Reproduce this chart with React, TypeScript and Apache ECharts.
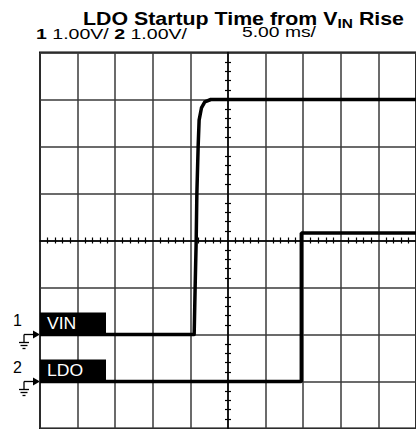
import React, { useEffect, useRef } from "react";
import * as echarts from "echarts";

// Channel 1 (VIN) trace: time in ms, volts (1 V/div, ground marker at its zero)
const vinTime = [-25, -4.5, -4.37, -4.23, -4.14, -3.97, -3.84, -3.53, -3.08, -2.29, 25];
const vinVolt = [0, 0, 1.0, 2.0, 3.0, 4.0, 4.56, 4.82, 4.95, 5.0, 5.0];
// Channel 2 (LDO) trace
const ldoTime = [-25, 9.75, 9.75, 25];
const ldoVolt = [0, 0, 3.16, 3.16];

const channelNames = ["VIN", "LDO"];
const channelNumbers = ["1", "2"];
const voltScales = ["1.00V/", "1.00V/"];
const timeScale = "5.00 ms/";

const FONT = "'Liberation Sans', Arial, Helvetica, sans-serif";

export default function App() {
  const ref = useRef<HTMLDivElement>(null);

  useEffect(() => {
    const chart = echarts.init(ref.current!, null, { renderer: "svg" });
    const ctx = document.createElement("canvas").getContext("2d")!;
    const measure = (t: string, font: string) => {
      ctx.font = font;
      return ctx.measureText(t).width;
    };
    const mkFont = (size: number, bold: boolean) => `${bold ? "bold " : ""}${size}px ${FONT}`;

    type Piece = { text: string; size: number; bold: boolean; dy?: number };
    const fitPieces = (pieces: Piece[], left: number, right: number, baseline: number) => {
      const widths = pieces.map((p) => measure(p.text, mkFont(p.size, p.bold)));
      const total = widths.reduce((a, b) => a + b, 0);
      const s = (right - left) / total;
      let cx = left;
      return pieces.map((p, i) => {
        const el = {
          type: "text",
          x: cx,
          y: baseline + (p.dy || 0) - 0.35 * p.size,
          scaleX: s,
          style: {
            text: p.text,
            font: mkFont(p.size, p.bold),
            fill: "#000",
            align: "left",
            verticalAlign: "middle",
          },
        };
        cx += widths[i] * s;
        return el;
      });
    };

    const gridLeft = 40;
    const gridTop = 52.5;
    const gridW = 378;
    const gridH = 376;
    const div = gridH / 8;

    const graphics: any[] = [];
    graphics.push(
      ...fitPieces(
        [
          { text: "LDO Startup Time from V", size: 18, bold: true },
          { text: "IN", size: 13, bold: true, dy: 3 },
          { text: " Rise", size: 18, bold: true },
        ],
        83,
        404,
        24.5
      )
    );
    graphics.push(
      ...fitPieces(
        [
          { text: channelNumbers[0], size: 14, bold: true },
          { text: " " + voltScales[0] + " ", size: 14, bold: false },
          { text: channelNumbers[1], size: 14, bold: true },
          { text: " " + voltScales[1], size: 14, bold: false },
        ],
        36,
        187,
        39
      )
    );
    graphics.push(...fitPieces([{ text: timeScale, size: 14, bold: false }], 242, 316, 37));

    // channel markers (ground levels: ch1 at division 2, ch2 at division 1 from bottom)
    const grounds = [gridTop + gridH - 2 * div, gridTop + gridH - 1 * div];
    grounds.forEach((g, i) => {
      graphics.push({
        type: "rect",
        shape: { x: gridLeft, y: g - 22, width: 66, height: 22 },
        style: { fill: "#000" },
        z: 10,
      });
      graphics.push({
        type: "text",
        x: 47,
        y: g - 11,
        scaleX: 1.1,
        style: { text: channelNames[i], font: mkFont(16, false), fill: "#fff", verticalAlign: "middle" },
        z: 11,
      });
      graphics.push({
        type: "text",
        x: 13,
        y: g - 14,
        style: { text: channelNumbers[i], font: mkFont(16, false), fill: "#000", verticalAlign: "middle" },
      });
      const ls = { stroke: "#000", lineWidth: 1.3 };
      graphics.push({ type: "line", shape: { x1: 24, y1: g, x2: 34, y2: g }, style: ls });
      graphics.push({ type: "line", shape: { x1: 24, y1: g, x2: 24, y2: g + 8 }, style: ls });
      graphics.push({ type: "line", shape: { x1: 19, y1: g + 8, x2: 29, y2: g + 8 }, style: ls });
      graphics.push({ type: "line", shape: { x1: 20.5, y1: g + 11, x2: 27.5, y2: g + 11 }, style: ls });
      graphics.push({ type: "line", shape: { x1: 22.5, y1: g + 14, x2: 25.5, y2: g + 14 }, style: ls });
      graphics.push({
        type: "polygon",
        shape: { points: [[33, g - 4], [40, g], [33, g + 4]] },
        style: { fill: "#000" },
      });
    });

    const minor = { show: true, splitNumber: 5, length: 3, lineStyle: { color: "#000", width: 1.2 } };
    const hidden = {
      axisLabel: { show: false },
      axisTick: { show: false },
      axisLine: { show: false },
      splitLine: { show: false },
    };

    chart.setOption({
      animation: false,
      grid: {
        show: true,
        left: gridLeft,
        top: gridTop,
        width: gridW,
        height: gridH,
        borderColor: "#000",
        borderWidth: 2,
        backgroundColor: "transparent",
      },
      xAxis: [
        {
          type: "value",
          min: -25,
          max: 25,
          interval: 5,
          position: "bottom",
          axisLabel: { show: false },
          axisTick: { show: false, inside: false },
          axisLine: { show: true, onZero: true, onZeroAxisIndex: 2, lineStyle: { color: "#000", width: 1.5 } },
          minorTick: minor,
          splitLine: { show: true, lineStyle: { color: "#3a3a3a", width: 1.5 } },
        },
        {
          type: "value",
          min: -25,
          max: 25,
          interval: 5,
          position: "top",
          axisLabel: { show: false },
          axisTick: { show: false, inside: false },
          axisLine: { show: false, onZero: true, onZeroAxisIndex: 2 },
          minorTick: minor,
          splitLine: { show: false },
        },
      ],
      yAxis: [
        {
          type: "value",
          min: -2,
          max: 6,
          interval: 1,
          ...hidden,
          splitLine: { show: true, lineStyle: { color: "#3a3a3a", width: 1.5 } },
        },
        { type: "value", min: -1, max: 7, interval: 1, ...hidden },
        {
          type: "value",
          min: -4,
          max: 4,
          interval: 1,
          position: "left",
          axisLabel: { show: false },
          axisTick: { show: false, inside: false },
          axisLine: { show: true, onZero: true, onZeroAxisIndex: 0, lineStyle: { color: "#000", width: 1.5 } },
          minorTick: minor,
          splitLine: { show: false },
        },
        {
          type: "value",
          min: -4,
          max: 4,
          interval: 1,
          position: "right",
          axisLabel: { show: false },
          axisTick: { show: false, inside: false },
          axisLine: { show: false, onZero: true, onZeroAxisIndex: 0 },
          minorTick: minor,
          splitLine: { show: false },
        },
      ],
      series: [
        {
          type: "line",
          name: channelNames[0],
          xAxisIndex: 0,
          yAxisIndex: 0,
          data: vinTime.map((t, i) => [t, vinVolt[i]]),
          showSymbol: false,
          lineStyle: { color: "#000", width: 3.5, join: "round" },
          z: 5,
        },
        {
          type: "line",
          name: channelNames[1],
          xAxisIndex: 0,
          yAxisIndex: 1,
          data: ldoTime.map((t, i) => [t, ldoVolt[i]]),
          showSymbol: false,
          lineStyle: { color: "#000", width: 3.5 },
          z: 5,
        },
      ],
      graphic: graphics,
    });

    return () => chart.dispose();
  }, []);

  return (
    <div
      ref={ref}
      style={{ position: "absolute", left: 0, top: 0, width: 416, height: 429, background: "#fff" }}
    />
  );
}
